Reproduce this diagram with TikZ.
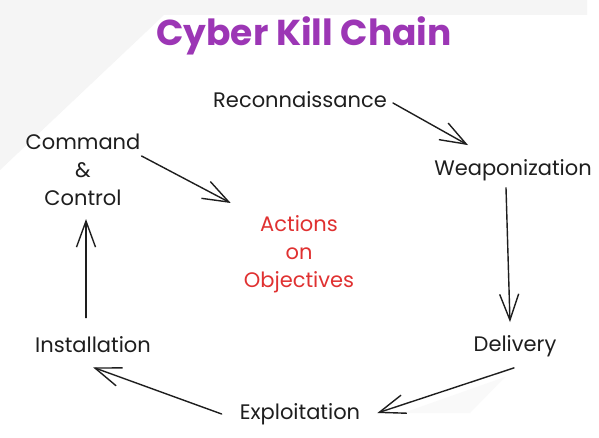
\documentclass[tikz,border=0pt]{standalone}
\usepackage{fontspec}
\setmainfont{Poppins}
\usetikzlibrary{arrows.meta,calc}
\definecolor{ink}{HTML}{1E1E1E}
\definecolor{titlepurple}{HTML}{9C36B5}
\definecolor{actred}{HTML}{E03131}
\definecolor{bggrey}{HTML}{F5F5F5}
\definecolor{bgfaint}{HTML}{F9F9F9}
\tikzset{
  lbl/.style={inner sep=0pt, text=ink, font=\fontsize{21}{25}\selectfont},
  arr/.style={draw=ink, line width=1.4pt, line cap=round,
    -{Straight Barb[length=26pt,width=19pt,line width=1.4pt]}},
}
\begin{document}
\begin{tikzpicture}[x=1pt,y=-1pt]
\useasboundingbox (0,0) rectangle (599,438);
\fill[white] (0,0) rectangle (599,438);
\fill[bggrey] (0,0) -- (587,0) -- (587,15) -- (164,15) -- (0,170) -- cycle;
\fill[bgfaint] (505,377) -- (470,413) -- (403,413) -- cycle;

\node[inner sep=0pt, text=titlepurple, font=\fontsize{36}{40}\selectfont\bfseries] (title) at (304,36) {Cyber Kill Chain};

\node[lbl] (rec) at (300,100) {Reconnaissance};
\node[lbl] (weap) at (513,170) {Weaponization};
\node[lbl] (del) at (515,346) {Delivery};
\node[lbl] (expl) at (300,414) {Exploitation};
\node[lbl] (inst) at (93,345) {Installation};
\node[lbl, align=center, font=\fontsize{21}{28}\selectfont] (cc) at (83,170) {Command\\\&\\Control};
\node[lbl, align=center, text=actred, font=\fontsize{21}{28}\selectfont] (act) at (299,254) {Actions\\on\\Objectives};

\draw[arr] ($(rec.east)+(6,3)$) -- ($(weap.north)+(-45,-14)$);
\draw[arr] ($(weap.south)+(-7,7)$) -- ($(del.north)+(-5,-13)$);
\draw[arr] ($(del.south)+(-1,11)$) -- ($(expl.east)+(17,-1)$);
\draw[arr] ($(expl.west)+(-18,0)$) -- ($(inst.south)+(0,14)$);
\draw[arr] ($(inst.north)+(-7,-19)$) -- ($(cc.south)+(3,13)$);
\draw[arr] ($(cc.east)+(1,-14)$) -- ($(act.west)+(-13,-51)$);
\end{tikzpicture}
\end{document}
